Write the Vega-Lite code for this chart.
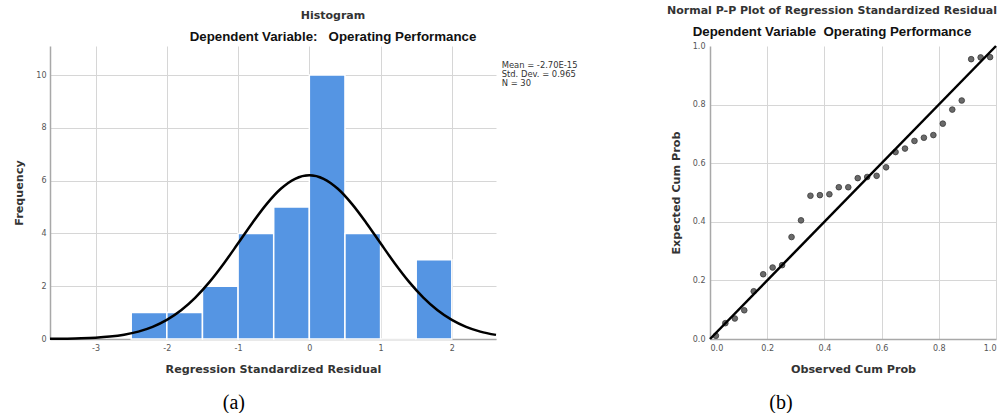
{
  "$schema": "https://vega.github.io/schema/vega-lite/v6.json",
  "background": "white",
  "padding": {"left": 13, "top": 4, "right": 0, "bottom": 0},
  "bounds": "flush",
  "spacing": 214,
  "config": {
    "view": {"stroke": null},
    "axis": {
      "ticks": false,
      "grid": true,
      "gridColor": "#d6d6d6",
      "gridWidth": 1,
      "domainColor": "#a8a8a8",
      "domainWidth": 1.5,
      "labelFont": "DejaVu Sans",
      "labelFontSize": 8,
      "labelColor": "#555555",
      "titleFont": "DejaVu Sans",
      "titleFontSize": 11.2,
      "titleFontWeight": "bold",
      "titleColor": "#333333"
    },
    "title": {
      "font": "DejaVu Sans",
      "fontSize": 11,
      "fontWeight": "bold",
      "color": "#333333",
      "subtitleFont": "Liberation Sans",
      "subtitleFontSize": 13.3,
      "subtitleFontWeight": "bold",
      "subtitleColor": "#111111",
      "subtitlePadding": 9,
      "anchor": "middle",
      "frame": "group",
      "offset": 3
    }
  },
  "hconcat": [
    {
      "width": 446,
      "height": 293,
      "title": {
        "text": "Histogram",
        "subtitle": "Dependent Variable:\u00a0\u00a0\u00a0Operating Performance",
        "dx": 60
      },
      "layer": [
        {
          "data": {"values": [
            {"bin_start": -2.5, "bin_end": -2.0, "count": 1},
            {"bin_start": -2.0, "bin_end": -1.5, "count": 1},
            {"bin_start": -1.5, "bin_end": -1.0, "count": 2},
            {"bin_start": -1.0, "bin_end": -0.5, "count": 4},
            {"bin_start": -0.5, "bin_end": 0.0, "count": 5},
            {"bin_start": 0.0, "bin_end": 0.5, "count": 10},
            {"bin_start": 0.5, "bin_end": 1.0, "count": 4},
            {"bin_start": 1.0, "bin_end": 1.5, "count": 0},
            {"bin_start": 1.5, "bin_end": 2.0, "count": 3}
          ]},
          "mark": {"type": "rect", "fill": "#5595E3", "stroke": "white", "strokeWidth": 1.5},
          "encoding": {
            "x": {
              "field": "bin_start", "type": "quantitative",
              "scale": {"domain": [-3.64, 2.62], "nice": false, "zero": false},
              "axis": {"values": [-3, -2, -1, 0, 1, 2], "labelExpr": "datum.value + ''", "title": "Regression Standardized Residual", "labelPadding": 5, "titlePadding": 11}
            },
            "x2": {"field": "bin_end"},
            "y": {
              "field": "count", "type": "quantitative",
              "scale": {"domain": [0, 11.1], "nice": false},
              "axis": {"values": [0, 2, 4, 6, 8, 10], "title": "Frequency", "labelPadding": 4, "titlePadding": 11}
            },
            "y2": {"datum": 0}
          }
        },
        {
          "data": {"values": [
            {"x": -3.64, "density": 0.005},
            {"x": -3.4, "density": 0.0125},
            {"x": -3.2, "density": 0.025},
            {"x": -3.0, "density": 0.049},
            {"x": -2.8, "density": 0.092},
            {"x": -2.6, "density": 0.164},
            {"x": -2.4, "density": 0.281},
            {"x": -2.2, "density": 0.461},
            {"x": -2.0, "density": 0.724},
            {"x": -1.8, "density": 1.089},
            {"x": -1.6, "density": 1.569},
            {"x": -1.4, "density": 2.165},
            {"x": -1.2, "density": 2.862},
            {"x": -1.0, "density": 3.625},
            {"x": -0.8, "density": 4.398},
            {"x": -0.6, "density": 5.111},
            {"x": -0.4, "density": 5.691},
            {"x": -0.2, "density": 6.070},
            {"x": 0.0, "density": 6.201},
            {"x": 0.2, "density": 6.070},
            {"x": 0.4, "density": 5.691},
            {"x": 0.6, "density": 5.111},
            {"x": 0.8, "density": 4.398},
            {"x": 1.0, "density": 3.625},
            {"x": 1.2, "density": 2.862},
            {"x": 1.4, "density": 2.165},
            {"x": 1.6, "density": 1.569},
            {"x": 1.8, "density": 1.089},
            {"x": 2.0, "density": 0.724},
            {"x": 2.2, "density": 0.461},
            {"x": 2.4, "density": 0.281},
            {"x": 2.62, "density": 0.156}
          ]},
          "mark": {"type": "line", "color": "black", "strokeWidth": 2.5, "interpolate": "monotone"},
          "encoding": {
            "x": {"field": "x", "type": "quantitative"},
            "y": {"field": "density", "type": "quantitative"}
          }
        },
        {
          "data": {"values": [
            {"x": 2.7, "y": 10.38, "label": "Mean = -2.70E-15"},
            {"x": 2.7, "y": 10.04, "label": "Std. Dev. = 0.965"},
            {"x": 2.7, "y": 9.70, "label": "N = 30"}
          ]},
          "mark": {"type": "text", "align": "left", "baseline": "middle", "font": "DejaVu Sans", "fontSize": 8.4, "color": "#333333"},
          "encoding": {
            "x": {"field": "x", "type": "quantitative"},
            "y": {"field": "y", "type": "quantitative"},
            "text": {"field": "label"}
          }
        },
        {
          "data": {"values": [{"x": -1.06, "y": -2.42, "label": "(a)"}]},
          "mark": {"type": "text", "align": "center", "baseline": "middle", "font": "Liberation Serif", "fontSize": 20, "color": "#000000"},
          "encoding": {
            "x": {"field": "x", "type": "quantitative"},
            "y": {"field": "y", "type": "quantitative"},
            "text": {"field": "label"}
          }
        }
      ]
    },
    {
      "width": 286,
      "height": 293,
      "title": {
        "text": "Normal P-P Plot of Regression Standardized Residual",
        "subtitle": "Dependent Variable\u00a0\u00a0Operating Performance",
        "dx": -21
      },
      "layer": [
        {
          "data": {"values": [
            {"observed": 0.0207, "expected": 0.011},
            {"observed": 0.0537, "expected": 0.054},
            {"observed": 0.0868, "expected": 0.070},
            {"observed": 0.1198, "expected": 0.098},
            {"observed": 0.1529, "expected": 0.163},
            {"observed": 0.1860, "expected": 0.221},
            {"observed": 0.2190, "expected": 0.244},
            {"observed": 0.2521, "expected": 0.252},
            {"observed": 0.2851, "expected": 0.348},
            {"observed": 0.3182, "expected": 0.405},
            {"observed": 0.3512, "expected": 0.489},
            {"observed": 0.3843, "expected": 0.491},
            {"observed": 0.4174, "expected": 0.494},
            {"observed": 0.4504, "expected": 0.518},
            {"observed": 0.4835, "expected": 0.518},
            {"observed": 0.5165, "expected": 0.549},
            {"observed": 0.5496, "expected": 0.553},
            {"observed": 0.5826, "expected": 0.557},
            {"observed": 0.6157, "expected": 0.586},
            {"observed": 0.6488, "expected": 0.638},
            {"observed": 0.6818, "expected": 0.650},
            {"observed": 0.7149, "expected": 0.676},
            {"observed": 0.7479, "expected": 0.687},
            {"observed": 0.7810, "expected": 0.696},
            {"observed": 0.8140, "expected": 0.735},
            {"observed": 0.8471, "expected": 0.783},
            {"observed": 0.8802, "expected": 0.814},
            {"observed": 0.9132, "expected": 0.955},
            {"observed": 0.9463, "expected": 0.961},
            {"observed": 0.9793, "expected": 0.962}
          ]},
          "mark": {"type": "point", "filled": true, "fill": "#6a6a6a", "stroke": "#3a3a3a", "strokeWidth": 0.8, "size": 32, "opacity": 1},
          "encoding": {
            "x": {
              "field": "observed", "type": "quantitative",
              "scale": {"domain": [0, 1], "nice": false},
              "axis": {"values": [0, 0.2, 0.4, 0.6, 0.8, 1.0], "format": ".1f", "title": "Observed Cum Prob", "labelPadding": 5, "titlePadding": 11,
                       "gridOpacity": {"condition": {"test": "datum.value == 0", "value": 0}, "value": 1}}
            },
            "y": {
              "field": "expected", "type": "quantitative",
              "scale": {"domain": [0, 1], "nice": false},
              "axis": {"values": [0, 0.2, 0.4, 0.6, 0.8, 1.0], "format": ".1f", "title": "Expected Cum Prob", "labelPadding": 5, "titlePadding": 11,
                       "gridOpacity": {"condition": {"test": "datum.value == 1 || datum.value == 0", "value": 0}, "value": 1}}
            }
          }
        },
        {
          "data": {"values": [{"observed": 0, "expected": 0}, {"observed": 1, "expected": 1}]},
          "mark": {"type": "line", "color": "black", "strokeWidth": 2.5},
          "encoding": {
            "x": {"field": "observed", "type": "quantitative"},
            "y": {"field": "expected", "type": "quantitative"}
          }
        },
        {
          "data": {"values": [{"observed": 0.248, "expected": -0.218, "label": "(b)"}]},
          "mark": {"type": "text", "align": "center", "baseline": "middle", "font": "Liberation Serif", "fontSize": 20, "color": "#000000"},
          "encoding": {
            "x": {"field": "observed", "type": "quantitative"},
            "y": {"field": "expected", "type": "quantitative"},
            "text": {"field": "label"}
          }
        }
      ]
    }
  ]
}
